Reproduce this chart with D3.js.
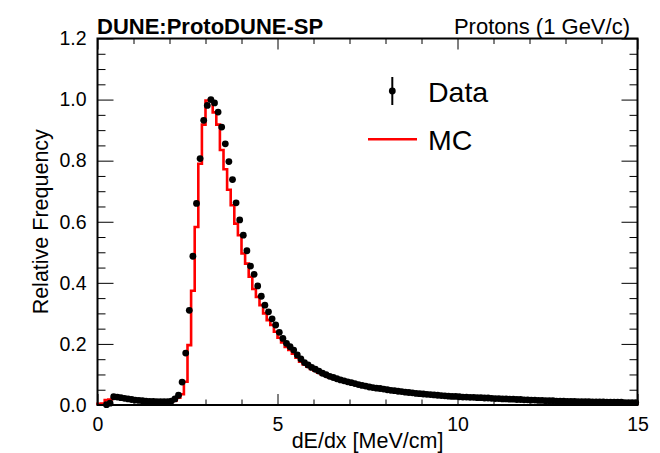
<!DOCTYPE html>
<html><head><meta charset="utf-8">
<script src="https://cdn.jsdelivr.net/npm/d3@7"></script>
<style>body{margin:0;background:#fff}svg{display:block}text{font-family:"Liberation Sans",Arial,sans-serif}</style>
</head><body><svg id="c" width="660" height="453"></svg>
<script>
const binWidth = 0.1;
const xDomain = [0, 15];
const yDomain = [0, 1.2];
const xMajorTicks = [0, 5, 10, 15];
const xMinorTicks = [1, 2, 3, 4, 6, 7, 8, 9, 11, 12, 13, 14];
const yMajorTicks = [0, 0.2, 0.4, 0.6, 0.8, 1.0, 1.2];
const yMinorTicks = [0.05,0.1,0.15,0.25,0.3,0.35,0.45,0.5,0.55,0.65,0.7,0.75,0.85,0.9,0.95,1.05,1.1,1.15];
const headerLeft = "DUNE:ProtoDUNE-SP";
const headerRight = "Protons (1 GeV/c)";
const xTitle = "dE/dx [MeV/cm]";
const yTitle = "Relative Frequency";
const legendLabels = ["Data", "MC"];

// Data (bin centres 0.05 ... 14.95)
const dataValues = [
  null, null, 0.001, 0.006, 0.027, 0.026, 0.024, 0.022, 0.020, 0.018,
  0.016, 0.015, 0.014, 0.013, 0.012, 0.012, 0.011, 0.011, 0.011, 0.011,
  0.013, 0.020, 0.032, 0.075, 0.170, 0.310, 0.487, 0.660, 0.807, 0.932,
  0.981, 1.000, 0.989, 0.959, 0.910, 0.855, 0.797, 0.738, 0.662, 0.606,
  0.556, 0.505, 0.455, 0.428, 0.390, 0.356, 0.327, 0.305, 0.282, 0.262,
  0.238, 0.218, 0.202, 0.191, 0.180, 0.164, 0.151, 0.139, 0.131, 0.123,
  0.117, 0.111, 0.104, 0.099, 0.094, 0.090, 0.086, 0.082, 0.079, 0.076,
  0.073, 0.070, 0.067, 0.064, 0.062, 0.059, 0.057, 0.055, 0.054, 0.052,
  0.050, 0.048, 0.047, 0.045, 0.044, 0.042, 0.041, 0.040, 0.038, 0.037,
  0.036, 0.035, 0.034, 0.033, 0.032, 0.031, 0.030, 0.029, 0.028, 0.028,
  0.027, 0.026, 0.026, 0.025, 0.025, 0.024, 0.024, 0.023, 0.023, 0.022,
  0.021, 0.021, 0.020, 0.020, 0.019, 0.019, 0.018, 0.018, 0.017, 0.017,
  0.016, 0.016, 0.015, 0.015, 0.014, 0.014, 0.014, 0.013, 0.013, 0.013,
  0.012, 0.012, 0.012, 0.011, 0.011, 0.011, 0.011, 0.010, 0.010, 0.010,
  0.010, 0.009, 0.009, 0.009, 0.009, 0.009, 0.008, 0.008, 0.008, 0.008
];
// MC histogram (same bins)
const mcValues = [
  0.004, 0.005, 0.016, 0.018, 0.022, 0.022, 0.021, 0.019, 0.018, 0.016,
  0.015, 0.014, 0.013, 0.012, 0.012, 0.011, 0.011, 0.011, 0.011, 0.011,
  0.012, 0.015, 0.024, 0.035, 0.076, 0.196, 0.374, 0.583, 0.790, 0.918,
  0.997, 1.000, 0.958, 0.918, 0.835, 0.772, 0.705, 0.654, 0.594, 0.556,
  0.496, 0.463, 0.420, 0.380, 0.354, 0.327, 0.300, 0.278, 0.262, 0.240,
  0.220, 0.205, 0.190, 0.180, 0.168, 0.155, 0.142, 0.133, 0.125, 0.118,
  0.112, 0.106, 0.100, 0.096, 0.091, 0.087, 0.083, 0.080, 0.077, 0.074,
  0.071, 0.068, 0.066, 0.063, 0.061, 0.058, 0.056, 0.054, 0.053, 0.051,
  0.049, 0.047, 0.046, 0.044, 0.043, 0.041, 0.040, 0.039, 0.037, 0.036,
  0.035, 0.034, 0.033, 0.032, 0.031, 0.030, 0.029, 0.028, 0.028, 0.027,
  0.026, 0.026, 0.025, 0.025, 0.024, 0.024, 0.023, 0.023, 0.022, 0.022,
  0.021, 0.020, 0.020, 0.019, 0.019, 0.018, 0.018, 0.017, 0.017, 0.016,
  0.016, 0.015, 0.015, 0.015, 0.014, 0.014, 0.013, 0.013, 0.013, 0.012,
  0.012, 0.012, 0.011, 0.011, 0.011, 0.011, 0.010, 0.010, 0.010, 0.010,
  0.009, 0.009, 0.009, 0.009, 0.009, 0.008, 0.008, 0.008, 0.008, 0.008
];

const svg = d3.select("#c");
const L = 97.5, R = 637.5, T = 38.5, B = 405;
const x = d3.scaleLinear().domain(xDomain).range([L, R]);
const y = d3.scaleLinear().domain(yDomain).range([B, T]);

const lowEdges = mcValues.map((_, i) => xDomain[0] + i * binWidth);

// MC histogram outline
const mcPts = [[xDomain[0], 0]];
mcValues.forEach((v, i) => { mcPts.push([lowEdges[i], v]); });
mcPts.push([xDomain[1], mcValues[mcValues.length - 1]]);
mcPts.push([xDomain[1], 0]);
const stepLine = d3.line().x(d => x(d[0])).y(d => y(d[1])).curve(d3.curveStepAfter);
const plot = svg.append("g");
plot.append("path").attr("d", stepLine(mcPts))
  .attr("fill", "none").attr("stroke", "#ff0000").attr("stroke-width", 2.6)
  .attr("stroke-linejoin", "miter");

// Data points
const dataPts = dataValues.map((v, i) => ({ c: lowEdges[i] + binWidth / 2, v })).filter(d => d.v !== null);
plot.selectAll("circle.d").data(dataPts).enter().append("circle")
  .attr("cx", d => x(d.c)).attr("cy", d => y(d.v)).attr("r", 3.4).attr("fill", "#000");

// Axes
function styleAxis(g) {
  g.select(".domain").remove();
  g.selectAll(".tick line").attr("stroke", "#000").attr("stroke-width", 1);
  g.selectAll("text").attr("font-size", 19.5).attr("fill", "#000")
    .attr("font-family", '"Liberation Sans", Arial, sans-serif');
}
svg.append("g").attr("transform", `translate(0,${B})`)
  .call(d3.axisBottom(x).tickValues(xMajorTicks).tickSize(-11).tickPadding(12).tickFormat(d3.format("d"))).call(styleAxis);
svg.append("g").attr("transform", `translate(0,${B})`)
  .call(d3.axisBottom(x).tickValues(xMinorTicks).tickSize(-5.5).tickFormat("")).call(styleAxis);
svg.append("g").attr("transform", `translate(0,${T})`)
  .call(d3.axisTop(x).tickValues(xMajorTicks).tickSize(-11).tickFormat("")).call(styleAxis);
svg.append("g").attr("transform", `translate(0,${T})`)
  .call(d3.axisTop(x).tickValues(xMinorTicks).tickSize(-5.5).tickFormat("")).call(styleAxis);
svg.append("g").attr("transform", `translate(${L},0)`)
  .call(d3.axisLeft(y).tickValues(yMajorTicks).tickSize(-16).tickPadding(11).tickFormat(d3.format(".1f"))).call(styleAxis);
svg.append("g").attr("transform", `translate(${L},0)`)
  .call(d3.axisLeft(y).tickValues(yMinorTicks).tickSize(-8).tickFormat("")).call(styleAxis);
svg.append("g").attr("transform", `translate(${R},0)`)
  .call(d3.axisRight(y).tickValues(yMajorTicks).tickSize(-16).tickFormat("")).call(styleAxis);
svg.append("g").attr("transform", `translate(${R},0)`)
  .call(d3.axisRight(y).tickValues(yMinorTicks).tickSize(-8).tickFormat("")).call(styleAxis);

// Frame
svg.append("rect").attr("x", L).attr("y", T).attr("width", R - L).attr("height", B - T)
  .attr("fill", "none").attr("stroke", "#000").attr("stroke-width", 2);

// Titles
svg.append("text").attr("x", (L + R) / 2).attr("y", 448).attr("text-anchor", "middle")
  .attr("font-size", 21.5).text(xTitle);
svg.append("text").attr("transform", `translate(47.5,${(T + B) / 2}) rotate(-90)`).attr("text-anchor", "middle")
  .attr("font-size", 21.5).text(yTitle);
svg.append("text").attr("x", 97).attr("y", 33.5).attr("font-size", 22).attr("font-weight", "bold").text(headerLeft);
svg.append("text").attr("x", 630).attr("y", 33.5).attr("text-anchor", "end").attr("font-size", 22).text(headerRight);

// Legend
const lg = svg.append("g");
lg.append("line").attr("x1", 392.3).attr("x2", 392.3).attr("y1", 77).attr("y2", 105).attr("stroke", "#000").attr("stroke-width", 2);
lg.append("circle").attr("cx", 392.3).attr("cy", 91).attr("r", 3.4).attr("fill", "#000");
lg.append("text").attr("x", 428).attr("y", 102).attr("font-size", 28.5).text(legendLabels[0]);
lg.append("line").attr("x1", 368).attr("x2", 417).attr("y1", 139.3).attr("y2", 139.3).attr("stroke", "#ff0000").attr("stroke-width", 2.6);
lg.append("text").attr("x", 428).attr("y", 150).attr("font-size", 28.5).text(legendLabels[1]);
</script></body></html>
